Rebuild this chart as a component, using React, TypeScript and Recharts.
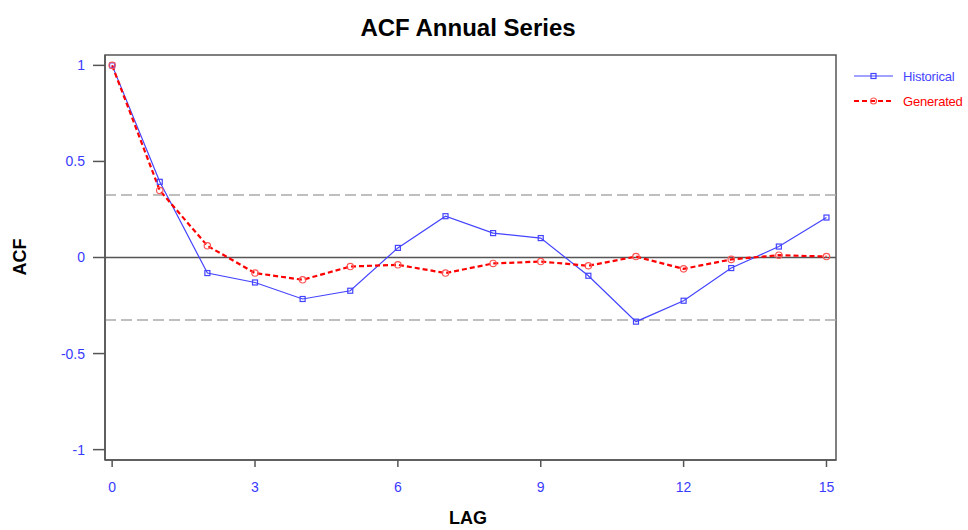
import React from 'react';
import { LineChart, Line, XAxis, YAxis, ReferenceLine, ReferenceArea } from 'recharts';

const lags = [0, 1, 2, 3, 4, 5, 6, 7, 8, 9, 10, 11, 12, 13, 14, 15];
const historical = [1.0, 0.394, -0.081, -0.13, -0.216, -0.173, 0.05, 0.215, 0.127, 0.101, -0.095, -0.334, -0.225, -0.055, 0.057, 0.208];
const generated = [1.0, 0.349, 0.061, -0.081, -0.116, -0.047, -0.038, -0.081, -0.031, -0.021, -0.043, 0.005, -0.059, -0.01, 0.012, 0.005];
const xTicks = [0, 3, 6, 9, 12, 15];
const yTicks = [-1, -0.5, 0, 0.5, 1];
const confLimit = 0.325;

const data = lags.map((lag, i) => ({ lag, historical: historical[i], generated: generated[i] }));

const FONT = '"Liberation Sans Narrow", "Liberation Sans", Arial, sans-serif';
const BLUE = '#4444ff';
const TICK_BLUE = '#3a3aff';
const RED = '#ff0000';

const SquareDot = (props: any) => {
  const { cx, cy } = props;
  if (cx == null || cy == null) return null;
  return <rect x={cx - 2.5} y={cy - 2.5} width={5} height={5} fill="none" stroke={BLUE} strokeWidth={1.2} />;
};

const CircleDot = (props: any) => {
  const { cx, cy } = props;
  if (cx == null || cy == null) return null;
  return <circle cx={cx} cy={cy} r={3.2} fill="none" stroke="#ff5555" strokeWidth={1.2} />;
};

export default function App() {
  return (
    <div style={{ position: 'absolute', left: 0, top: 0, width: 968, height: 530, background: '#fff', fontFamily: FONT }}>
      <LineChart width={968} height={530} data={data} margin={{ top: 55, right: 132, bottom: 0, left: 5 }}>
        <XAxis
          dataKey="lag"
          type="number"
          domain={[-0.15, 15.2]}
          ticks={xTicks}
          allowDataOverflow
          tickSize={7}
          tickMargin={15}
          axisLine={{ stroke: '#555', strokeWidth: 1.5 }}
          tickLine={{ stroke: '#555', strokeWidth: 1.5 }}
          tick={{ fill: TICK_BLUE, fontSize: 14, fontFamily: FONT }}
          height={70}
        />
        <YAxis
          type="number"
          domain={[-1.054, 1.054]}
          ticks={yTicks}
          allowDataOverflow
          width={100}
          tickSize={12}
          tickMargin={8}
          axisLine={{ stroke: '#555', strokeWidth: 1.5 }}
          tickLine={{ stroke: '#555', strokeWidth: 1.5 }}
          tick={{ fill: TICK_BLUE, fontSize: 14, fontFamily: FONT }}
        />
        <ReferenceArea x1={-0.15} x2={15.2} y1={-1.054} y2={1.054} fill="none" stroke="#555" strokeWidth={1.5} ifOverflow="visible" />
        <ReferenceLine y={0} stroke="#555" strokeWidth={1.5} />
        <ReferenceLine y={confLimit} stroke="#aaa" strokeWidth={1.5} strokeDasharray="11 5" />
        <ReferenceLine y={-confLimit} stroke="#aaa" strokeWidth={1.5} strokeDasharray="11 5" />
        <Line
          type="linear"
          dataKey="historical"
          stroke={BLUE}
          strokeWidth={1.2}
          dot={<SquareDot />}
          activeDot={false}
          isAnimationActive={false}
        />
        <Line
          type="linear"
          dataKey="generated"
          stroke={RED}
          strokeWidth={2.2}
          strokeDasharray="5 3"
          dot={<CircleDot />}
          activeDot={false}
          isAnimationActive={false}
        />
      </LineChart>

      <div style={{ position: 'absolute', left: 0, width: 936, top: 14, textAlign: 'center', fontSize: 24, fontWeight: 'bold', color: '#000' }}>
        ACF Annual Series
      </div>
      <div style={{ position: 'absolute', left: 0, width: 936, top: 508, textAlign: 'center', fontSize: 18, fontWeight: 'bold', color: '#000' }}>
        LAG
      </div>
      <div style={{ position: 'absolute', left: 20, top: 257, transform: 'translate(-50%, -50%) rotate(-90deg)', fontSize: 18, fontWeight: 'bold', color: '#000' }}>
        ACF
      </div>

      <div style={{ position: 'absolute', left: 853, top: 67, fontSize: 13, letterSpacing: -0.2 }}>
        <div style={{ display: 'flex', alignItems: 'center', height: 18 }}>
          <svg width={42} height={10}>
            <line x1={1} y1={5} x2={40} y2={5} stroke={BLUE} strokeWidth={1.2} />
            <rect x={18} y={2.5} width={5} height={5} fill="none" stroke={BLUE} strokeWidth={1.2} />
          </svg>
          <span style={{ color: BLUE, marginLeft: 8 }}>Historical</span>
        </div>
        <div style={{ display: 'flex', alignItems: 'center', height: 18, marginTop: 7 }}>
          <svg width={42} height={10}>
            <line x1={1} y1={5} x2={40} y2={5} stroke={RED} strokeWidth={2} strokeDasharray="5 3" />
            <circle cx={20.5} cy={5} r={3} fill="none" stroke="#ff5555" strokeWidth={1.2} />
          </svg>
          <span style={{ color: RED, marginLeft: 8 }}>Generated</span>
        </div>
      </div>
    </div>
  );
}
